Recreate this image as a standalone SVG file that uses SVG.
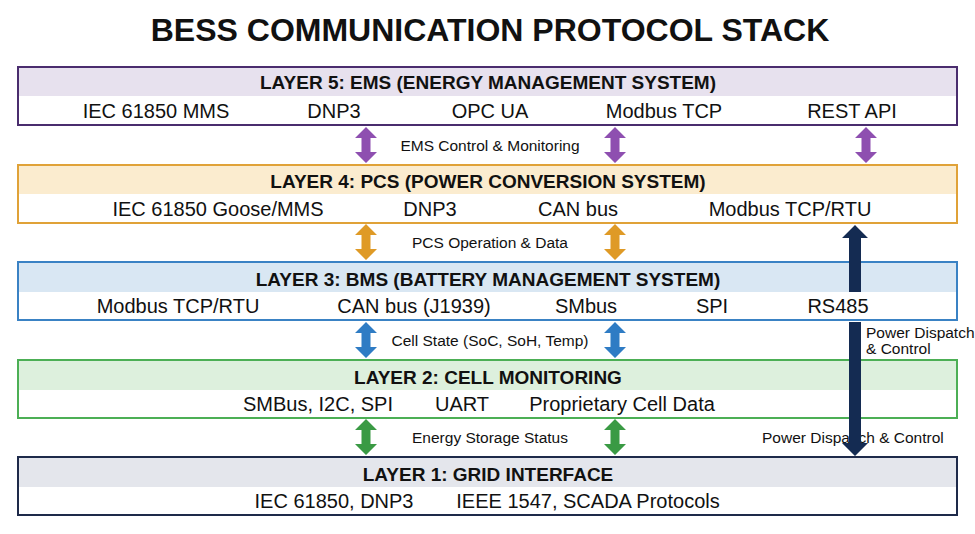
<svg xmlns="http://www.w3.org/2000/svg" width="975" height="534" viewBox="0 0 975 534">
<style>
.t{font-family:"Liberation Sans",Arial,sans-serif;fill:#111}
.title{font-size:32px;font-weight:bold}
.h{font-size:19px;font-weight:bold}
.p{font-size:20px}
.lab{font-size:15.5px}
</style>
<defs>
<path id="dbl" d="M0,-18 L11,-7 L4.5,-7 L4.5,7 L11,7 L0,18 L-11,7 L-4.5,7 L-4.5,-7 L-11,-7 Z"/>
</defs>
<rect width="975" height="534" fill="#fff"/>
<text class="t title" x="490" y="41" text-anchor="middle">BESS COMMUNICATION PROTOCOL STACK</text>

<g id="connectors">
<g fill="#8e4fb0"><use href="#dbl" x="366" y="145"/><use href="#dbl" x="615" y="145"/><use href="#dbl" x="866" y="145"/></g>
<g fill="#df9a26"><use href="#dbl" x="366" y="242"/><use href="#dbl" x="615" y="242"/></g>
<g fill="#2f7cc4"><use href="#dbl" x="366" y="340"/><use href="#dbl" x="615" y="340"/></g>
<g fill="#3a9a44"><use href="#dbl" x="366" y="437"/><use href="#dbl" x="615" y="437"/></g>
<text class="t lab" x="490" y="151" text-anchor="middle">EMS Control &amp; Monitoring</text>
<text class="t lab" x="490" y="248" text-anchor="middle">PCS Operation &amp; Data</text>
<text class="t lab" x="490" y="346" text-anchor="middle">Cell State (SoC, SoH, Temp)</text>
<text class="t lab" x="490" y="443" text-anchor="middle">Energy Storage Status</text>
<text class="t lab" x="866" y="338" font-size="14">Power Dispatch</text>
<text class="t lab" x="866" y="354" font-size="14">&amp; Control</text>
<text class="t lab" x="762" y="443">Power Dispattch &amp; Control</text>
</g>

<g id="layer5">
<rect x="18" y="67" width="939" height="58" fill="#fff" stroke="#4a2d6e" stroke-width="2"/>
<rect x="19" y="68" width="937" height="28" fill="#e7e1ee"/>
<text class="t h" x="488" y="89" text-anchor="middle">LAYER 5: EMS (ENERGY MANAGEMENT SYSTEM)</text>
<text class="t p" x="156" y="118" text-anchor="middle">IEC 61850 MMS</text>
<text class="t p" x="334" y="118" text-anchor="middle">DNP3</text>
<text class="t p" x="490" y="118" text-anchor="middle">OPC UA</text>
<text class="t p" x="664" y="118" text-anchor="middle">Modbus TCP</text>
<text class="t p" x="852" y="118" text-anchor="middle">REST API</text>
</g>

<g id="layer4">
<rect x="18" y="165" width="939" height="58" fill="#fff" stroke="#e0a238" stroke-width="2"/>
<rect x="19" y="166" width="937" height="28" fill="#fbeccf"/>
<text class="t h" x="488" y="188" text-anchor="middle">LAYER 4: PCS (POWER CONVERSION SYSTEM)</text>
<text class="t p" x="218" y="216" text-anchor="middle">IEC 61850 Goose/MMS</text>
<text class="t p" x="430" y="216" text-anchor="middle">DNP3</text>
<text class="t p" x="578" y="216" text-anchor="middle">CAN bus</text>
<text class="t p" x="790" y="216" text-anchor="middle">Modbus TCP/RTU</text>
</g>

<g id="layer3">
<rect x="18" y="262" width="939" height="58" fill="#fff" stroke="#3a82c4" stroke-width="2"/>
<rect x="19" y="263" width="937" height="29" fill="#d9e7f3"/>
<path d="M855,225 L868,238 L861,238 L861,292 L849,292 L849,238 L842,238 Z" fill="#142b52"/>
<text class="t h" x="488" y="286" text-anchor="middle">LAYER 3: BMS (BATTERY MANAGEMENT SYSTEM)</text>
<text class="t p" x="178" y="313" text-anchor="middle">Modbus TCP/RTU</text>
<text class="t p" x="414" y="313" text-anchor="middle">CAN bus (J1939)</text>
<text class="t p" x="586" y="313" text-anchor="middle">SMbus</text>
<text class="t p" x="712" y="313" text-anchor="middle">SPI</text>
<text class="t p" x="838" y="313" text-anchor="middle">RS485</text>
</g>

<g id="layer2">
<rect x="18" y="360" width="939" height="58" fill="#fff" stroke="#4caf55" stroke-width="2"/>
<rect x="19" y="361" width="937" height="29" fill="#ddf0dd"/>
<text class="t h" x="488" y="384" text-anchor="middle">LAYER 2: CELL MONITORING</text>
<text class="t p" x="318" y="411" text-anchor="middle">SMBus, I2C, SPI</text>
<text class="t p" x="462" y="411" text-anchor="middle">UART</text>
<text class="t p" x="622" y="411" text-anchor="middle">Proprietary Cell Data</text>
</g>

<path id="dispatch" d="M849,322 L861,322 L861,443 L868,443 L855,456 L842,443 L849,443 Z" fill="#142b52"/>

<g id="layer1">
<rect x="18" y="457" width="939" height="58" fill="#fff" stroke="#1e2a4a" stroke-width="2"/>
<rect x="19" y="458" width="937" height="29" fill="#e4e6ec"/>
<text class="t h" x="488" y="481" text-anchor="middle">LAYER 1: GRID INTERFACE</text>
<text class="t p" x="334" y="508" text-anchor="middle">IEC 61850, DNP3</text>
<text class="t p" x="588" y="508" text-anchor="middle">IEEE 1547, SCADA Protocols</text>
</g>
</svg>
